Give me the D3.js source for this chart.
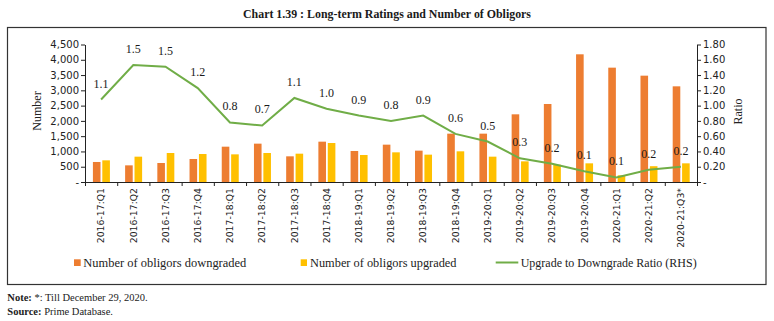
<!DOCTYPE html>
<html>
<head>
<meta charset="utf-8">
<script src="https://cdn.jsdelivr.net/npm/d3@7"></script>
<style>
  html, body { margin: 0; padding: 0; background: #fff; }
  svg { display: block; }
</style>
</head>
<body>
<svg id="chart" width="774" height="321"></svg>
<script>
const categories = ["2016-17:Q1","2016-17:Q2","2016-17:Q3","2016-17:Q4",
  "2017-18:Q1","2017-18:Q2","2017-18:Q3","2017-18:Q4",
  "2018-19:Q1","2018-19:Q2","2018-19:Q3","2018-19:Q4",
  "2019-20:Q1","2019-20:Q2","2019-20:Q3","2019-20:Q4",
  "2020-21:Q1","2020-21:Q2","2020-21:Q3*"];
const downgraded = [655, 545, 622, 753, 1156, 1255, 840, 1320, 1015, 1222, 1026, 1582, 1582, 2215, 2553, 4179, 3742, 3480, 3131];
const upgraded   = [709, 829, 949, 916, 905, 949, 927, 1276, 884, 971, 895, 1004, 829, 676, 567, 611, 218, 517, 611];
const ratio      = [1.08, 1.53, 1.51, 1.23, 0.78, 0.74, 1.10, 0.96, 0.87, 0.80, 0.87, 0.63, 0.53, 0.31, 0.24, 0.14, 0.06, 0.16, 0.20];
const leftTicks  = [0, 500, 1000, 1500, 2000, 2500, 3000, 3500, 4000, 4500];
const rightTicks = [0, 0.2, 0.4, 0.6, 0.8, 1.0, 1.2, 1.4, 1.6, 1.8];
const seriesNames = ["Number of obligors downgraded", "Number of obligors upgraded", "Upgrade to Downgrade Ratio (RHS)"];
const colors = {down: "#ED7D31", up: "#FFC000", ratio: "#70AD47"};

const svg = d3.select("#chart");
const serif = "'Liberation Serif', 'DejaVu Serif', serif";
const sans = "'DejaVu Sans', Verdana, sans-serif";

const X0 = 85, X1 = 697, Y0 = 182, Y1 = 44.5;

// Title
svg.append("text").attr("x", 387).attr("y", 18)
  .attr("text-anchor", "middle")
  .attr("font-family", serif).attr("font-weight", "bold").attr("font-size", 13)
  .attr("textLength", 288).attr("lengthAdjust", "spacingAndGlyphs")
  .attr("fill", "#1a1a1a")
  .text("Chart 1.39 : Long-term Ratings and Number of Obligors");

// Frame
svg.append("rect").attr("x", 7.5).attr("y", 27.5).attr("width", 758.5).attr("height", 257)
  .attr("fill", "none").attr("stroke", "#333").attr("stroke-width", 1.2);

const x = d3.scaleBand().domain(categories).range([X0, X1]).paddingInner(0).paddingOuter(0);
const xb = d3.scaleLinear().domain([0, categories.length]).range([X0, X1]);
const yL = d3.scaleLinear().domain([0, 4500]).range([Y0, Y1]);
const yR = d3.scaleLinear().domain([0, 1.8]).range([Y0, Y1]);

// Bars
const bw = 7.6;
const g = svg.append("g");
g.selectAll("rect.down").data(categories).join("rect").attr("class", "down")
  .attr("x", (d) => x(d) + x.bandwidth() / 2 - bw - 0.6)
  .attr("width", bw)
  .attr("y", (d, i) => yL(downgraded[i]))
  .attr("height", (d, i) => Y0 - yL(downgraded[i]))
  .attr("fill", colors.down);
g.selectAll("rect.up").data(categories).join("rect").attr("class", "up")
  .attr("x", (d) => x(d) + x.bandwidth() / 2 + 1.2)
  .attr("width", bw)
  .attr("y", (d, i) => yL(upgraded[i]))
  .attr("height", (d, i) => Y0 - yL(upgraded[i]))
  .attr("fill", colors.up);

// Left axis
const axL = svg.append("g").attr("transform", `translate(${X0},0)`)
  .call(d3.axisLeft(yL).tickValues(leftTicks).tickSizeInner(4).tickSizeOuter(0).tickPadding(2)
    .tickFormat((d) => d === 0 ? "-" : d3.format(",")(d)));
axL.selectAll("text").attr("font-family", sans).attr("font-size", 10).attr("fill", "#222");
axL.selectAll("line, path").attr("stroke", "#222");

// Right axis
const axR = svg.append("g").attr("transform", `translate(${X1},0)`)
  .call(d3.axisRight(yR).tickValues(rightTicks).tickSizeInner(4).tickSizeOuter(0).tickPadding(2)
    .tickFormat((d) => d === 0 ? "-" : d3.format(".2f")(d)));
axR.selectAll("text").attr("font-family", sans).attr("font-size", 10).attr("fill", "#222");
axR.selectAll("line, path").attr("stroke", "#222");

// X axis: boundary ticks
const axB = svg.append("g").attr("transform", `translate(0,${Y0})`)
  .call(d3.axisBottom(xb).tickValues(d3.range(categories.length + 1)).tickFormat("").tickSizeInner(4).tickSizeOuter(0));
axB.selectAll("line, path").attr("stroke", "#222");
// X axis labels
const axLab = svg.append("g").attr("transform", `translate(0,${Y0})`)
  .call(d3.axisBottom(x).tickSize(0));
axLab.select("path").remove();
axLab.selectAll("text")
  .attr("transform", "rotate(-90)")
  .attr("x", -6).attr("y", 0).attr("dy", "0.35em")
  .style("text-anchor", "end")
  .attr("font-family", sans).attr("font-size", 9.3).attr("fill", "#222");

// Ratio line
const line = d3.line()
  .x((d, i) => x(categories[i]) + x.bandwidth() / 2)
  .y((d) => yR(d));
svg.append("path").datum(ratio).attr("d", line)
  .attr("fill", "none").attr("stroke", colors.ratio).attr("stroke-width", 2);

// Data labels
svg.append("g").selectAll("text").data(ratio).join("text")
  .attr("x", (d, i) => x(categories[i]) + x.bandwidth() / 2)
  .attr("y", (d) => yR(d) - 12)
  .attr("text-anchor", "middle")
  .attr("font-family", serif).attr("font-size", 12).attr("fill", "#1a1a1a")
  .text((d) => d3.format(".1f")(d));

// Axis titles
svg.append("text").attr("transform", "translate(41,111) rotate(-90)")
  .attr("text-anchor", "middle").attr("font-family", serif).attr("font-size", 12).attr("fill", "#222")
  .text("Number");
svg.append("text").attr("transform", "translate(742,111.5) rotate(-90)")
  .attr("text-anchor", "middle").attr("font-family", serif).attr("font-size", 12).attr("fill", "#222")
  .text("Ratio");

// Legend
const leg = svg.append("g");
leg.append("rect").attr("x", 74).attr("y", 259.3).attr("width", 6.7).attr("height", 6.7).attr("fill", colors.down);
leg.append("text").attr("x", 83.3).attr("y", 266.5).attr("font-family", serif).attr("font-size", 13)
  .attr("textLength", 163).attr("lengthAdjust", "spacingAndGlyphs").attr("fill", "#222").text(seriesNames[0]);
leg.append("rect").attr("x", 300.7).attr("y", 259.3).attr("width", 6.3).attr("height", 6.7).attr("fill", colors.up);
leg.append("text").attr("x", 310).attr("y", 266.5).attr("font-family", serif).attr("font-size", 13)
  .attr("textLength", 146.5).attr("lengthAdjust", "spacingAndGlyphs").attr("fill", "#222").text(seriesNames[1]);
leg.append("line").attr("x1", 495.7).attr("x2", 518.3).attr("y1", 262.5).attr("y2", 262.5)
  .attr("stroke", colors.ratio).attr("stroke-width", 2);
leg.append("text").attr("x", 520.7).attr("y", 266.5).attr("font-family", serif).attr("font-size", 13)
  .attr("textLength", 176).attr("lengthAdjust", "spacingAndGlyphs").attr("fill", "#222").text(seriesNames[2]);

// Notes
const n1 = svg.append("text").attr("x", 7.3).attr("y", 301).attr("font-family", serif).attr("font-size", 10.5).attr("fill", "#222");
n1.append("tspan").attr("font-weight", "bold").text("Note: ");
n1.append("tspan").text("*: Till December 29, 2020.");
const n2 = svg.append("text").attr("x", 7.3).attr("y", 314.5).attr("font-family", serif).attr("font-size", 10.5).attr("fill", "#222");
n2.append("tspan").attr("font-weight", "bold").text("Source: ");
n2.append("tspan").text("Prime Database.");
</script>
</body>
</html>
